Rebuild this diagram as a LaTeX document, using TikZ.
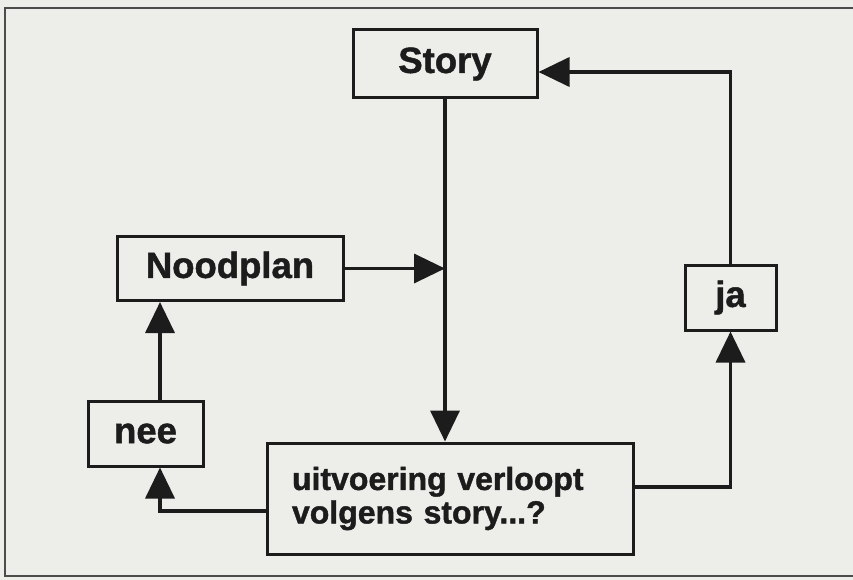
\documentclass[tikz,border=0pt]{standalone}
\usepackage{fontspec}
\setmainfont{Liberation Sans}
\newfontfamily\heavy{Liberation Sans Bold}[FakeBold=1.3]
\usetikzlibrary{arrows.meta}
\definecolor{paper}{HTML}{EDEDEA}
\definecolor{ink}{HTML}{1C1C1C}
\tikzset{
  boxnode/.style={draw=ink, line width=3pt, fill=paper, text=ink, inner sep=0pt,
    font=\fontsize{36.5}{38}\heavy},
  arr/.style={draw=ink, line width=3.6pt, -{Triangle[length=31pt,width=29pt]}},
  frameline/.style={draw=black!70, line width=2pt}
}
\begin{document}
\begin{tikzpicture}[x=1pt,y=-1pt]
\fill[paper] (0,0) rectangle (853,580);
\useasboundingbox (0,0) rectangle (853,580);
\draw[frameline] (853,8) -- (5,8) -- (5,576) -- (853,576);

\node[boxnode, minimum width=184pt, minimum height=68pt] (story) at (445,64) {Story};
\node[boxnode, minimum width=226pt, minimum height=64pt] (noodplan) at (230,268.5) {Noodplan};
\node[boxnode, minimum width=91pt, minimum height=65pt] (ja) at (730.5,297.5) {ja};
\node[boxnode, minimum width=115pt, minimum height=65pt] (nee) at (145.5,433.5) {nee};
\node[boxnode, minimum width=366pt, minimum height=111pt, text width=316pt, inner xsep=25pt, align=left,
  font=\fontsize{32}{33.5}\heavy] (uit) at (450,498.5) {uitvoering verloopt\\volgens story...?};

\draw[arr] (story.south) -- (story.south |- uit.north);
\draw[arr] (noodplan.east) -- (story.south |- noodplan.east);
\draw[arr] ([yshift=11.5pt]uit.east) -| (ja.south);
\draw[arr] (ja.north) |- ([yshift=-8pt]story.east);
\draw[arr] ([yshift=-12.5pt]uit.west) -| ([xshift=14.5pt]nee.south);
\draw[arr] ([xshift=14.5pt]nee.north) -- ([xshift=14.5pt]nee.north |- noodplan.south);
\end{tikzpicture}
\end{document}
